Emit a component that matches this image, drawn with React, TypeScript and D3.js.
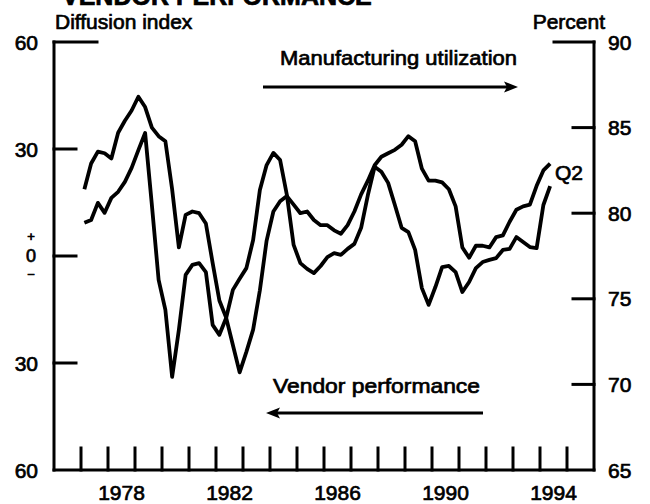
import React from "react";
import * as d3 from "d3";

// Quarterly data, 1977:Q1 through 1994:Q2
const firstYear = 1977;
const utilization = [81.4, 82.9, 83.6, 83.5, 83.2, 84.7, 85.4, 86.0, 86.8, 86.2,
  85.0, 84.5, 84.2, 81.4, 78.0, 79.9, 80.1, 80.0, 79.4, 77.1,
  74.9, 73.9, 72.3, 70.7, 71.9, 73.2, 75.5, 78.4, 80.1, 80.7,
  81.0, 80.5, 80.0, 80.1, 79.6, 79.3, 79.3, 79.0, 78.8, 79.3,
  80.1, 81.1, 81.9, 82.8, 83.3, 83.5, 83.7, 84.0, 84.5, 84.2,
  82.6, 81.9, 81.9, 81.8, 81.4, 80.4, 78.0, 77.4, 78.1, 78.1,
  78.0, 78.6, 78.7, 79.5, 80.2, 80.4, 80.5, 81.6, 82.5, 82.9];
const vendor = [9.3, 10.1, 14.9, 12.1, 16.3, 18.0, 20.8, 24.7, 29.7, 34.5,
  14.3, -6.7, -15.1, -33.9, -20.7, -5.3, -2.5, -2.0, -4.5, -19.3,
  -22.1, -17.4, -9.5, -6.4, -3.4, 4.5, 18.5, 25.5, 28.9, 26.9,
  17.1, 3.1, -2.0, -3.6, -4.8, -2.8, -0.3, 0.8, 0.3, 2.0,
  3.4, 7.9, 17.1, 25.0, 23.6, 20.5, 14.3, 7.9, 6.7, 1.7,
  -9.0, -13.7, -8.7, -3.1, -2.8, -4.5, -10.1, -7.3, -3.4, -1.7,
  -1.1, -0.6, 1.7, 2.0, 5.3, 3.9, 2.5, 2.2, 14.3, 19.6];
const yearTicks = d3.range(1977, 1996);
const yearLabels = [1978, 1982, 1986, 1990, 1994];
const leftTicks = [60, 30, 0, -30, -60];
const rightTicks = [90, 85, 80, 75, 70, 65];

const W = 650, H = 504;
const FONT = "'Liberation Sans', Arial, Helvetica, sans-serif";

export default function App() {
  const x = d3.scaleLinear().domain([1976, 1996]).range([54, 594]);
  const yL = d3.scaleLinear().domain([-60, 60]).range([470, 42]);
  const yR = d3.scaleLinear().domain([65, 90]).range([470, 42]);
  const qx = (i: number) => x(firstYear + i / 4 + 0.125);

  const lineU = d3.line<number>().x((_, i) => qx(i)).y((d) => yR(d));
  const lineV = d3.line<number>().x((_, i) => qx(i)).y((d) => yL(d));

  const txt = { fontFamily: FONT, fill: "#000", stroke: "#000", strokeWidth: 0.7 } as const;
  const left = x(1976), right = x(1996), top = yL(60), bottom = yL(-60);

  return (
    <svg width={W} height={H} style={{ position: "absolute", left: 0, top: 0, background: "#fff" }}>
      <text x={62} y={5} fontSize={25} fontWeight="bold" {...txt}>VENDOR PERFORMANCE</text>
      <text x={55} y={29} fontSize={21} {...txt}>Diffusion index</text>
      <text x={605} y={29} fontSize={21} textAnchor="end" {...txt}>Percent</text>

      {/* frame */}
      <g stroke="#000" strokeWidth={3} fill="none" strokeLinecap="square">
        <line x1={left} y1={top} x2={left} y2={bottom} />
        <line x1={right} y1={top} x2={right} y2={bottom} />
        <line x1={left} y1={bottom} x2={right} y2={bottom} />
        <line x1={left} y1={top} x2={left + 43} y2={top} />
        <line x1={right - 40} y1={top} x2={right} y2={top} />
        {leftTicks.filter((t) => Math.abs(t) < 60).map((t) => (
          <line key={"l" + t} x1={left} x2={left + 22} y1={yL(t)} y2={yL(t)} />
        ))}
        {rightTicks.filter((t) => t < 90 && t > 65).map((t) => (
          <line key={"r" + t} x1={right - 21} x2={right} y1={yR(t)} y2={yR(t)} />
        ))}
        {yearTicks.map((yr) => (
          <line key={"x" + yr} x1={x(yr)} x2={x(yr)} y1={bottom} y2={bottom - 22} />
        ))}
      </g>

      {/* left labels */}
      {leftTicks.map((t) =>
        t === 0 ? null : (
          <text key={"lt" + t} x={38} y={yL(t)} dy="0.36em" fontSize={21} textAnchor="end" {...txt}>
            {Math.abs(t)}
          </text>
        )
      )}
      <text x={31} y={yL(0) - 20} dy="0.36em" fontSize={13} textAnchor="middle" {...txt}>+</text>
      <text x={31} y={yL(0)} dy="0.36em" fontSize={18} textAnchor="middle" {...txt}>0</text>
      <text x={31} y={yL(0) + 18} dy="0.36em" fontSize={13} textAnchor="middle" {...txt}>−</text>

      {/* right labels */}
      {rightTicks.map((t) => (
        <text key={"rt" + t} x={608} y={yR(t)} dy="0.36em" fontSize={21} {...txt}>{t}</text>
      ))}

      {/* year labels */}
      {yearLabels.map((yr) => (
        <text key={"yl" + yr} x={x(yr + 0.5)} y={500} fontSize={21} textAnchor="middle" {...txt}>{yr}</text>
      ))}

      {/* series */}
      <path d={lineU(utilization) || ""} fill="none" stroke="#000" strokeWidth={3.8} strokeLinejoin="round" />
      <path d={lineV(vendor) || ""} fill="none" stroke="#000" strokeWidth={3.8} strokeLinejoin="round" />

      <text x={555} y={180} fontSize={21} {...txt}>Q2</text>

      {/* annotations */}
      <text x={280} y={65} fontSize={21} textLength={237} lengthAdjust="spacingAndGlyphs" {...txt}>Manufacturing utilization</text>
      <line x1={263} x2={508} y1={87} y2={87} stroke="#000" strokeWidth={3} />
      <path d="M518,87 L504,81.5 L507,87 L504,92.5 Z" fill="#000" />

      <text x={273} y={393} fontSize={21} textLength={207} lengthAdjust="spacingAndGlyphs" {...txt}>Vendor performance</text>
      <line x1={277} x2={483} y1={413} y2={413} stroke="#000" strokeWidth={3} />
      <path d="M266,413 L280,407.5 L277,413 L280,418.5 Z" fill="#000" />
    </svg>
  );
}
